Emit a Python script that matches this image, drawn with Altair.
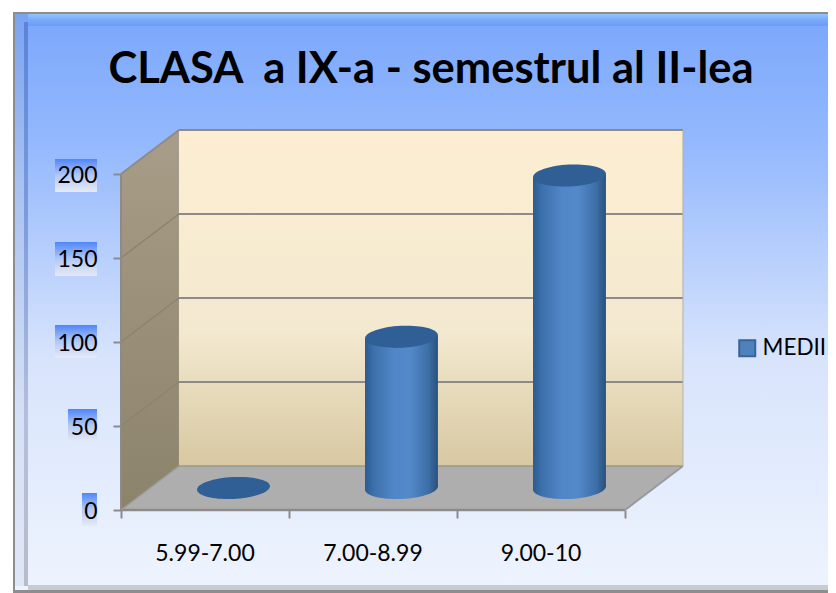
import altair as alt
import pandas as pd

# ---- chart values ----
categories = ["5.99-7.00", "7.00-8.99", "9.00-10"]
medii = [0, 90, 186]
y_ticks = [0, 50, 100, 150, 200]
series_name = "MEDII"
title_text = "CLASA \u00a0a IX-a - semestrul al II-lea"

# ---- 3D look: depth of the box expressed in data units ----
DEPTH_X = 0.345
DEPTH_Y = 26.2
HALF_W = 0.217
TILT = 1.0

FONT = "Lato"
W, H = 820, 585
xs = alt.Scale(domain=[-0.6726, 4.2083], nice=False, zero=False)
ys = alt.Scale(domain=[-49.4, 298.8], nice=False, zero=False)
GRID = "#8f8a8a"

x_axis = alt.Axis(
    values=list(range(len(categories) + 1)), labels=False, title=None, grid=False, domain=False,
    offset=-83, tickSize=8, tickColor=GRID, tickWidth=2, zindex=1)
y_axis = alt.Axis(
    values=y_ticks, title=None, grid=False, domain=False, offset=-113,
    tickSize=8, tickColor=GRID, tickWidth=2, labelPadding=16, zindex=1, labelOffset=1.5,
    labelFont=FONT, labelFontSize=23, labelColor="#000000")


def grad(stops, horizontal=False):
    return alt.LinearGradient(
        gradient="linear",
        x1=0, y1=0, x2=1 if horizontal else 0, y2=0 if horizontal else 1,
        stops=[alt.GradientStop(offset=o, color=c) for o, c in stops],
    )


X = lambda f="x": alt.X(f"{f}:Q", scale=xs, axis=x_axis)
Y = lambda f="y": alt.Y(f"{f}:Q", scale=ys, axis=y_axis)
one = pd.DataFrame([{"k": 1}])


def pane(x0, x1, y0, y1, fill):
    """Rectangle of the chart frame, in pixels of the view."""
    return alt.Chart(one).mark_rect(color=fill).encode(
        x=alt.value(x0), x2=alt.value(x1), y=alt.value(y0), y2=alt.value(y1)
    )


# ---- frame ----
layers = [
    pane(5, W, 4, 585, "#8d8d8d"),
    pane(7, W, 6, 582, grad([(0, "#7ba7fb"), (0.22, "#93b8fd"), (0.6, "#d8e4fc"), (1, "#eef4fe")])),
    pane(7, W, 6, 18, grad([(0, "#92c4fb"), (0.5, "#78aafb"), (1, "#6c9cf8")])),
    pane(7, 20, 6, 578, grad([(0, "#7aa3f0"), (0.3, "#a9c2f2"), (0.7, "#d6e0f6"), (1, "#dfe6f6")])),
    pane(16, 20, 14, 578, grad([(0, "#5c83d8"), (0.35, "#7e9cdc"), (0.7, "#b4bfdc"), (1, "#b8bcc8")])),
    pane(20, W, 577, 582, "#c8ccd2"),
]

# ---- gradient patches behind the y labels ----
label_boxes = [(74, 485, 518), (60, 401, 434), (47, 317, 350), (47, 234, 268), (47, 151, 184)]
for left, top, bottom in label_boxes:
    layers.append(pane(left, 89, top, bottom,
                       grad([(0, "#4f86fb"), (0.5, "#b4c8f4"), (1, "#e6eaf6")])))

# ---- box: back wall, floor, side wall ----
x0, x1 = 0.0, float(len(categories))
top = max(y_ticks)
back = pd.DataFrame([{"x": x0 + DEPTH_X, "x2": x1 + DEPTH_X, "y": DEPTH_Y, "y2": top + DEPTH_Y}])
layers.append(alt.Chart(back).mark_rect(
    color=grad([(0, "#fdeed2"), (0.6, "#f3e9d0"), (1, "#d8c8a2")])
).encode(x=X(), x2="x2:Q", y=Y(), y2="y2:Q"))

side = pd.DataFrame([
    {"x": x0, "y": 0, "y2": top},
    {"x": x0 + DEPTH_X, "y": DEPTH_Y, "y2": top + DEPTH_Y},
])
layers.append(alt.Chart(side).mark_area(
    color=grad([(0, "#a89d88"), (1, "#8c836b")])
).encode(x=X(), y=Y(), y2="y2:Q"))

floor = pd.DataFrame([
    {"x": x0, "y": 0, "y2": 0},
    {"x": x0 + DEPTH_X, "y": 0, "y2": DEPTH_Y},
    {"x": x1, "y": 0, "y2": DEPTH_Y},
    {"x": x1 + DEPTH_X, "y": DEPTH_Y, "y2": DEPTH_Y},
])
layers.append(alt.Chart(floor).mark_area(color="#aeaeae").encode(x=X(), y=Y(), y2="y2:Q"))

# ---- grid lines and box edges ----
segments = []
for i, t in enumerate(y_ticks):
    if i:
        segments.append({"x": x0 + DEPTH_X, "x2": x1 + DEPTH_X, "y": t + DEPTH_Y, "y2": t + DEPTH_Y, "s": 2.0, "c": GRID})
    if 0 < i < len(y_ticks) - 1:
        segments.append({"x": x0, "x2": x0 + DEPTH_X, "y": t, "y2": t + DEPTH_Y, "s": 1.5, "c": "#8b8373"})
segments += [
    {"x": x0, "x2": x0 + DEPTH_X, "y": top, "y2": top + DEPTH_Y, "s": 2.0, "c": GRID},
    {"x": x0, "x2": x0, "y": 0, "y2": top, "s": 2.0, "c": GRID},
    {"x": x0, "x2": x1, "y": 0, "y2": 0, "s": 2.5, "c": GRID},
    {"x": x0, "x2": x0 + DEPTH_X, "y": 0, "y2": DEPTH_Y, "s": 1.5, "c": "#9a9a9a"},
    {"x": x1, "x2": x1 + DEPTH_X, "y": 0, "y2": DEPTH_Y, "s": 2.0, "c": "#9a9a9a"},
    {"x": x0 + DEPTH_X, "x2": x1 + DEPTH_X, "y": DEPTH_Y, "y2": DEPTH_Y, "s": 1.5, "c": "#9a9a8e"},
    {"x": x1 + DEPTH_X, "x2": x1 + DEPTH_X, "y": DEPTH_Y, "y2": top + DEPTH_Y, "s": 1.0, "c": "#b0b0b0"},
]
for s in segments:
    layers.append(alt.Chart(pd.DataFrame([s])).mark_rule(color=s["c"], strokeWidth=s["s"]).encode(
        x=X(), x2="x2:Q", y=Y(), y2="y2:Q"))

# ---- cylinders ----
ELLIPSE = "M-1,0.05 A1,0.3 -3 1 1 1,-0.05 A1,0.3 -3 1 1 -1,0.05 Z"
SIZE = (2 * HALF_W * 168) ** 2
BODY = grad([(0, "#2c5a8e"), (0.12, "#3c71ac"), (0.4, "#5186c8"), (0.62, "#5389c9"),
             (0.86, "#3d6fa8"), (1, "#2b517c")], horizontal=True)
CAP = "#2f5f94"
for i, v in enumerate(medii):
    cx = i + 0.5 + 0.339 / 2
    base = DEPTH_Y / 2
    centre = pd.DataFrame([{"x": cx, "y": base}])
    if v > 0:
        layers.append(alt.Chart(centre).mark_point(
            shape=ELLIPSE, size=SIZE, filled=True, fill=BODY, opacity=1, strokeWidth=0
        ).encode(x=X(), y=Y()))
        body = pd.DataFrame([
            {"x": cx - HALF_W, "y": base - TILT, "y2": base + v - TILT},
            {"x": cx + HALF_W, "y": base + TILT, "y2": base + v + TILT},
        ])
        layers.append(alt.Chart(body).mark_area(color=BODY).encode(x=X(), y=Y(), y2="y2:Q"))
    capd = pd.DataFrame([{"x": cx, "y": base + v}])
    layers.append(alt.Chart(capd).mark_point(
        shape=ELLIPSE, size=SIZE, filled=True, fill=CAP, opacity=1, strokeWidth=0
    ).encode(x=X(), y=Y()))

# ---- category labels ----
cats = pd.DataFrame({"x": [i + 0.5 for i in range(len(categories))], "label": categories, "y": [-26.2] * len(categories)})
layers.append(alt.Chart(cats).mark_text(font=FONT, fontSize=23, color="#000000").encode(
    x=X(), y=Y(), text="label:N"))

# ---- legend, from an empty layer ----
layers.append(alt.Chart(pd.DataFrame({"s": [series_name]})).transform_filter("false").mark_square().encode(
    x=alt.value(0),
    y=alt.value(0),
    color=alt.Color("s:N", scale=alt.Scale(domain=[series_name], range=["#4f81bd"]), legend=alt.Legend(
        title=None, orient="none", legendX=728, legendY=329, symbolType="square", symbolSize=256,
        symbolStrokeColor="#38649a", symbolStrokeWidth=2, labelFont=FONT, labelFontSize=22.5,
        labelColor="#000000", symbolOpacity=1)),
))

chart = alt.layer(*layers).properties(
    width=W, height=H, padding=0,
    autosize=alt.AutoSizeParams(type="none"),
    title=alt.TitleParams(title_text, font=FONT, fontSize=43.5, fontWeight="bold", color="#000000",
                          anchor="middle", dx=13, dy=88),
).configure_view(stroke=None)

chart.save("out.html", embed_options={"renderer": "svg", "actions": False})
